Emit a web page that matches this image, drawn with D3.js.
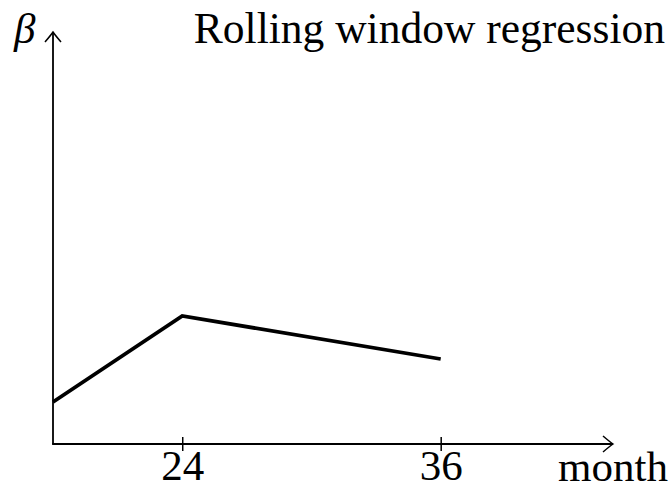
<!DOCTYPE html>
<html>
<head>
<script src="https://d3js.org/d3.v7.min.js"></script>
<title>Rolling window regression</title>
<style>
body {margin:0; background:#fff;}
text {font-family:"Liberation Serif","Times New Roman",serif; fill:#000;}
</style>
</head>
<body>
<div id="myDiv"></div>
<script>
// data
var months = [18, 24, 36];
var beta = [0.42, 1.28, 0.85];
var tickMonths = [24, 36];
var tickLabels = ["24", "36"];

var width = 670, height = 489;

var svg = d3.select("#myDiv").append("svg")
	.attr("width", width)
	.attr("height", height);

// scales
var xScale = d3.scaleLinear().domain([18, 44]).range([53, 613]);
var yScale = d3.scaleLinear().domain([0, 4.12]).range([444, 32]);

// axis lines with arrow heads
svg.append("line")
	.attr("x1", xScale(18) - 0.9).attr("y1", yScale(0))
	.attr("x2", xScale(44)).attr("y2", yScale(0))
	.attr("stroke", "black").attr("stroke-width", 1.8);
svg.append("line")
	.attr("x1", xScale(18)).attr("y1", yScale(0))
	.attr("x2", xScale(18)).attr("y2", yScale(4.12))
	.attr("stroke", "black").attr("stroke-width", 1.8);

var arrow = "M-10,-8 Q-3,-2 0,0 Q-3,2 -10,8";
svg.append("path")
	.attr("d", arrow)
	.attr("transform", "translate(" + xScale(44) + "," + yScale(0) + ")")
	.attr("fill", "none").attr("stroke", "black").attr("stroke-width", 1.5);
svg.append("path")
	.attr("d", arrow)
	.attr("transform", "translate(" + xScale(18) + "," + yScale(4.12) + ") rotate(-90)")
	.attr("fill", "none").attr("stroke", "black").attr("stroke-width", 1.5);

// x axis ticks
var xaxis = d3.axisBottom(xScale)
	.tickValues(tickMonths)
	.tickFormat(function(d, i) { return tickLabels[i]; })
	.tickSize(6);

var gx = svg.append("g")
	.attr("transform", "translate(0," + yScale(0) + ")")
	.attr("font-family", null)
	.call(xaxis);
gx.select(".domain").remove();
gx.selectAll(".tick line")
	.attr("y1", -7).attr("y2", 7)
	.attr("stroke-width", 1.5);
gx.selectAll(".tick text")
	.attr("y", 36).attr("dy", 0)
	.style("font-size", "43px")
	.style("font-family", "'Liberation Serif', serif");

// line
var line = d3.line()
	.x(function(d, i) { return xScale(months[i]); })
	.y(function(d) { return yScale(d); });

svg.append("path")
	.datum(beta)
	.attr("d", line)
	.attr("fill", "none")
	.attr("stroke", "black")
	.attr("stroke-width", 3.8)
	.attr("stroke-linejoin", "miter");

// labels
svg.append("text")
	.attr("x", 665).attr("y", 43)
	.attr("text-anchor", "end")
	.style("font-size", "43.5px")
	.text("Rolling window regression");

svg.append("text")
	.attr("x", 668).attr("y", 481)
	.attr("text-anchor", "end")
	.style("font-size", "43px")
	.text("month");

svg.append("text")
	.attr("x", 14).attr("y", 43)
	.style("font-size", "43px")
	.style("font-style", "italic")
	.text("β");
</script>
</body>
</html>
